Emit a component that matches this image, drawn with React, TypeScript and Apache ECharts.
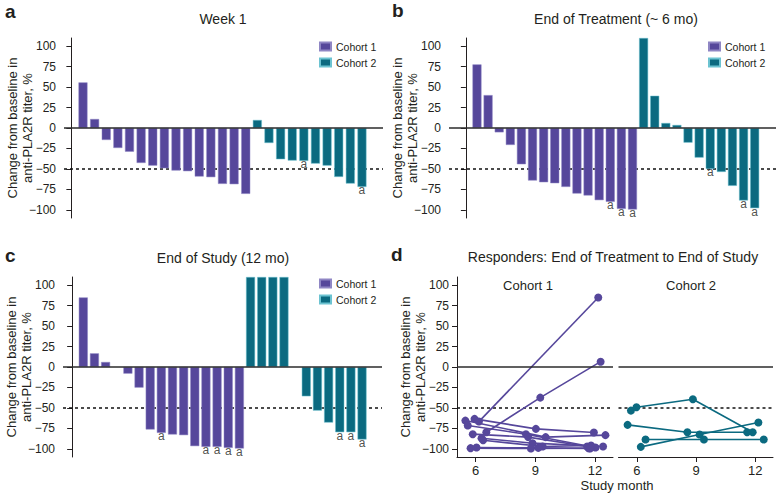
import React, { useEffect, useRef } from 'react';
import * as echarts from 'echarts';

const PURPLE = '#56479b';
const PURPLE_EDGE = '#8f86c4';
const TEAL = '#0b6a80';
const TEAL_EDGE = '#6cc3d1';
const FONT = '"Liberation Sans", Arial, Helvetica, sans-serif';
const TXT = '#231f20';

// Panel a: Week 1
const week1Cohort1 = [55.7, 11, -14.6, -24.4, -28.9, -42.7, -46, -49.2, -52, -52.8, -59.3, -60.1, -68.3, -68.7, -80.5];
const week1Cohort2 = [9.8, -18.3, -38.2, -39.8, -40.2, -43.5, -46, -59.8, -67.9, -72];
const week1Flags1: number[] = [];
const week1Flags2 = [4, 9];

// Panel b: End of Treatment (~6 mo)
const eotCohort1 = [77.7, 40.2, -5.3, -20.7, -44.3, -64.2, -66.3, -67.5, -72, -80.1, -82.5, -88.2, -90.2, -98.8, -99.6];
const eotCohort2 = [110, 39.4, 6.1, 3.7, -17.9, -36.2, -50, -53.7, -70.7, -88.6, -98];
const eotFlags1 = [12, 13, 14];
const eotFlags2 = [6, 9, 10];

// Panel c: End of Study (12 mo)
const eosCohort1 = [85, 16.7, 6.1, null, -8.1, -25.2, -76.4, -80.5, -82.5, -83.3, -96.7, -97.6, -97.6, -98.8, -99.6];
const eosCohort2 = [110, 110, 110, 110, null, -35.8, -53.3, -67.9, -79.7, -79.7, -88.6];
const eosFlags1 = [7, 11, 12, 13, 14];
const eosFlags2 = [8, 9, 10];

// Panel d: responders, [study month, change %]
const respCohort1: number[][][] = [
  [[6.17, -66.7], [12.16, 85]],
  [[6.54, -79.7], [9.25, -37.4], [12.28, 6.5]],
  [[5.95, -63.4], [9.03, -75.6], [11.94, -80.1]],
  [[5.49, -65.5], [9.52, -85.7], [12.52, -83.3]],
  [[5.61, -71.5], [8.53, -82.1], [12.02, -98.4]],
  [[5.86, -82.1], [8.64, -85.7], [11.6, -97.2]],
  [[6.3, -87], [8.86, -93.1], [12.4, -97.2]],
  [[6.38, -89.5], [9.37, -97.2], [11.8, -96]],
  [[5.75, -99.2], [8.78, -99.6], [11.67, -99.2]],
  [[6.05, -98.4], [9.15, -98.8], [11.75, -99.6]],
];
const respCohort2: number[][][] = [
  [[5.7, -53.3], [5.98, -49.2], [8.84, -39.4], [11.87, -79.7]],
  [[5.53, -70.7], [8.56, -79.7], [11.59, -79.7]],
  [[6.2, -97.6], [9.18, -82.5], [12.16, -67.9]],
  [[6.44, -88.6], [9.4, -88.6], [12.43, -88.6]],
];

const yTicks = [-100, -75, -50, -25, 0, 25, 50, 75, 100];
const monthTicks = [6, 9, 12];

const fmt = (v: number) => (v < 0 ? '\u2212' + Math.abs(v) : String(v));

function barData(values: (number | null)[], offset: number) {
  const out: number[][] = [];
  values.forEach((v, i) => {
    if (v !== null) out.push([i + 1 + offset, v]);
  });
  return out;
}

const zeroLine = {
  silent: true,
  symbol: 'none',
  z: 6,
  label: { show: false },
  lineStyle: { color: '#2b2b2b', width: 1.5, type: 'solid' },
  data: [{ yAxis: 0 }],
};
const dashLine = {
  silent: true,
  symbol: 'none',
  z: 1,
  label: { show: false },
  lineStyle: { color: '#111', width: 1.5, type: [3, 3] },
  data: [{ yAxis: -50 }],
};

function barPanel(gi: number, c1: (number | null)[], c2: (number | null)[], f1: number[], f2: number[]) {
  const n1 = c1.length;
  const flags = [
    ...f1.map((i) => [i + 1, c1[i] as number]),
    ...f2.map((i) => [i + 1 + n1, c2[i] as number]),
  ];
  return [
    {
      type: 'bar', name: 'Cohort 1', xAxisIndex: gi, yAxisIndex: gi,
      data: barData(c1, 0), barWidth: 9, barGap: '-100%', z: 3,
      itemStyle: { color: PURPLE, borderColor: PURPLE_EDGE, borderWidth: 0.5 },
      markLine: zeroLine,
    },
    {
      type: 'bar', name: 'Cohort 2', xAxisIndex: gi, yAxisIndex: gi,
      data: barData(c2, n1), barWidth: 9, barGap: '-100%', z: 3,
      itemStyle: { color: TEAL, borderColor: TEAL_EDGE, borderWidth: 0.5 },
    },
    {
      type: 'scatter', xAxisIndex: gi, yAxisIndex: gi, z: 4, silent: true,
      symbolSize: 1, itemStyle: { color: 'rgba(0,0,0,0)' },
      data: flags,
      label: {
        show: true, position: 'bottom', distance: 0, offset: [0, -3],
        formatter: 'a', fontSize: 12, color: TXT, fontFamily: FONT,
      },
      markLine: dashLine,
    },
  ];
}

function linePanel(gi: number, lines: number[][][], color: string) {
  return lines.map((pts, k) => ({
    type: 'line', xAxisIndex: gi, yAxisIndex: gi, data: pts, z: 3,
    symbol: 'circle', symbolSize: 8, showSymbol: true,
    lineStyle: { color, width: 1.6 },
    itemStyle: { color },
    markLine: k === 0 ? { ...zeroLine, data: [{ yAxis: 0 }] } : undefined,
  })).concat([
    {
      type: 'line', xAxisIndex: gi, yAxisIndex: gi, data: [[monthTicks[0], -50]], z: 1,
      symbolSize: 0, showSymbol: false, lineStyle: { width: 0 }, itemStyle: { color: 'rgba(0,0,0,0)' },
      markLine: dashLine as any,
    } as any,
  ]);
}

const yAxisShown = (gi: number) => ({
  type: 'value', gridIndex: gi, min: -110, max: 110,
  axisLine: { show: true, lineStyle: { color: TXT, width: 1 } },
  axisTick: { show: true, length: 5, customValues: yTicks, lineStyle: { color: TXT, width: 1 } },
  axisLabel: { customValues: yTicks, fontSize: 12, color: TXT, margin: 8, formatter: fmt, fontFamily: FONT },
  splitLine: { show: false },
});

const xHidden = (gi: number, min: number, max: number) => ({
  type: 'value', gridIndex: gi, min, max, show: false,
});

const xMonth = (gi: number) => ({
  type: 'value', gridIndex: gi, min: 5.07, max: 12.9,
  axisLine: { show: true, onZero: false, lineStyle: { color: TXT, width: 1 } },
  axisTick: { show: true, length: 5, customValues: monthTicks, lineStyle: { color: TXT } },
  axisLabel: { customValues: monthTicks, fontSize: 13, color: TXT, margin: 7, fontFamily: FONT },
  splitLine: { show: false },
});

const legendAt = (left: number, top: number) => ({
  left, top, orient: 'vertical', icon: 'rect', itemWidth: 11, itemHeight: 8, itemGap: 5,
  padding: 0, selectedMode: false, data: ['Cohort 1', 'Cohort 2'],
  textStyle: { fontSize: 10.5, color: TXT, fontFamily: FONT },
});

const txt = (text: string, x: number, y: number, size: number, extra: any = {}) => ({
  type: 'text', x, y, silent: true, ...extra,
  style: {
    text, fill: TXT, font: `${extra.bold ? 'bold ' : ''}${size}px ${FONT}`,
    textAlign: extra.align || 'center', textVerticalAlign: 'middle', lineHeight: extra.lineHeight,
  },
});

const yName = 'Change from baseline in\nanti-PLA2R titer, %';

export default function App() {
  const ref = useRef<HTMLDivElement>(null);
  useEffect(() => {
    document.body.style.margin = '0';
    const chart = echarts.init(ref.current!, undefined, { renderer: 'svg' });
    const option: any = {
      animation: false,
      textStyle: { fontFamily: FONT },
      grid: [
        { left: 64, top: 38, width: 319, height: 180 },
        { left: 449, top: 38, width: 327, height: 180 },
        { left: 63, top: 277, width: 319, height: 180 },
        { left: 457, top: 277, width: 156, height: 180 },
        { left: 618.5, top: 277, width: 154.5, height: 180 },
      ],
      xAxis: [
        xHidden(0, -0.634, 26.81),
        xHidden(1, -1.52, 27.92),
        xHidden(2, -0.82, 27.79),
        xMonth(3),
        xMonth(4),
      ],
      yAxis: [
        yAxisShown(0),
        yAxisShown(1),
        yAxisShown(2),
        yAxisShown(3),
        { type: 'value', gridIndex: 4, min: -110, max: 110, show: false },
      ],
      legend: [legendAt(319, 41), legendAt(708, 41), legendAt(319, 278)],
      series: [
        ...barPanel(0, week1Cohort1, week1Cohort2, week1Flags1, week1Flags2),
        ...barPanel(1, eotCohort1, eotCohort2, eotFlags1, eotFlags2),
        ...barPanel(2, eosCohort1, eosCohort2, eosFlags1, eosFlags2),
        ...linePanel(3, respCohort1, PURPLE),
        ...linePanel(4, respCohort2, TEAL),
      ],
      graphic: [
        txt('a', 5, 11, 19, { bold: true, align: 'left' }),
        txt('b', 392, 10, 19, { bold: true, align: 'left' }),
        txt('c', 5, 255, 19, { bold: true, align: 'left' }),
        txt('d', 391, 254, 19, { bold: true, align: 'left' }),
        txt('Week 1', 223, 19, 14),
        txt('End of Treatment (~ 6 mo)', 616, 19, 14),
        txt('End of Study (12 mo)', 223, 258, 14),
        txt('Responders: End of Treatment to End of Study', 613, 257, 14),
        txt(yName, 20, 128, 13, { rotation: Math.PI / 2, lineHeight: 15 }),
        txt(yName, 405, 128, 13, { rotation: Math.PI / 2, lineHeight: 15 }),
        txt(yName, 19, 367, 13, { rotation: Math.PI / 2, lineHeight: 15 }),
        txt(yName, 413, 367, 13, { rotation: Math.PI / 2, lineHeight: 15 }),
        txt('Cohort 1', 528, 285, 13),
        txt('Cohort 2', 691, 285, 13),
        txt('Study month', 617, 485, 13),
      ],
    };
    chart.setOption(option);
    return () => chart.dispose();
  }, []);
  return <div ref={ref} style={{ width: 777, height: 496 }} />;
}
